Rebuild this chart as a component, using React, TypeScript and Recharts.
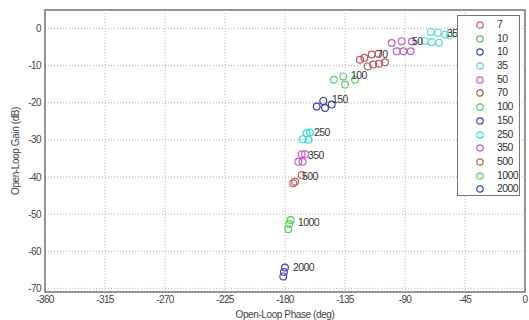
import React from 'react';
import {
  ScatterChart,
  Scatter,
  XAxis,
  YAxis,
  CartesianGrid,
  ReferenceArea,
  Label
} from 'recharts';

// legend order, as in the figure
const freqNames = ['7', '10', '10', '35', '50', '70', '100', '150', '250', '350', '500', '1000', '2000'];
const freqColors = [
  '#c86464', '#5cbf5c', '#3c3c9c', '#5ad6d6', '#c05cc0', '#b85a5a', '#6ac86a',
  '#4040a0', '#30dcdc', '#c85ec8', '#c86060', '#50d050', '#4848b0'
];

// open-loop phase (deg) / gain (dB) per frequency
const phase7: number[] = [];
const gain7: number[] = [];
const phase10a: number[] = [];
const gain10a: number[] = [];
const phase10b: number[] = [];
const gain10b: number[] = [];
const phase35 = [-70.7, -65.3, -60, -56.3, -75, -70, -64.5];
const gain35 = [-0.9, -1.1, -1.6, -1.9, -3.4, -3.7, -3.8];
const phase50 = [-100, -92.5, -84.8, -96.2, -91.2, -85.7];
const gain50 = [-3.9, -3.4, -3.5, -6.1, -6.1, -6.1];
const phase70 = [-123.8, -120.5, -115, -110, -118, -113.8, -109.5, -105];
const gain70 = [-8.4, -7.9, -7.0, -6.8, -10.2, -9.7, -9.5, -9.1];
const phase100 = [-143.3, -136.3, -135, -127.5];
const gain100 = [-13.8, -12.9, -15.1, -13.8];
const phase150 = [-156.2, -151.3, -150, -145];
const gain150 = [-21, -19.5, -21.4, -20.5];
const phase250 = [-166.8, -163.8, -162.5, -161.3];
const gain250 = [-29.8, -28.2, -30, -28.0];
const phase350 = [-167.5, -165, -170, -166.8];
const gain350 = [-33.9, -33.9, -35.9, -35.9];
const phase500 = [-167.5, -172.5, -173.8];
const gain500 = [-39.5, -41.3, -41.7];
const phase1000 = [-175.8, -176.8, -177.5];
const gain1000 = [-51.6, -52.7, -54.1];
const phase2000 = [-180, -180.8, -181.3];
const gain2000 = [-64.4, -65.6, -66.8];

const seriesPhases = [phase7, phase10a, phase10b, phase35, phase50, phase70, phase100, phase150, phase250, phase350, phase500, phase1000, phase2000];
const seriesGains = [gain7, gain10a, gain10b, gain35, gain50, gain70, gain100, gain150, gain250, gain350, gain500, gain1000, gain2000];

// text annotations next to each cluster
const annoText = ['35', '50', '70', '100', '150', '250', '350', '500', '1000', '2000'];
const annoPhase = [-58.5, -84.8, -111, -130.5, -144.8, -158.3, -162.8, -167.3, -170.3, -174];
const annoGain = [-1.4, -3.5, -7.0, -12.7, -19.2, -28.1, -34.1, -40, -52.2, -64.3];

const xTicks = [-360, -315, -270, -225, -180, -135, -90, -45, 0];
const yTicks = [0, -10, -20, -30, -40, -50, -60, -70];

const FONT = '"Liberation Sans", Arial, sans-serif';

const series = freqNames.map((name, i) => ({
  name,
  color: freqColors[i],
  data: seriesPhases[i].map((p, j) => ({ phase: p, gain: seriesGains[i][j] }))
}));

const annoData = annoText.map((t, i) => ({ phase: annoPhase[i], gain: annoGain[i], text: t }));

const App: React.FC = () => {
  return (
    <div style={{ position: 'absolute', left: 0, top: 0, width: 529, height: 320, background: '#fff', fontFamily: FONT }}>
      <ScatterChart width={529} height={320} margin={{ top: 10, right: 4, bottom: 0, left: 0 }}>
        <CartesianGrid strokeDasharray="1 2" stroke="#b0b0b0" />
        <XAxis
          type="number"
          dataKey="phase"
          domain={[-360, 0]}
          ticks={xTicks}
          height={28}
          axisLine={false}
          tickLine={false}
          tickSize={2}
          tickMargin={2}
          tick={{ fontSize: 10, fill: '#444', fontFamily: FONT, letterSpacing: -0.6 }}
          allowDataOverflow
        >
          <Label value="Open-Loop Phase (deg)" position="insideBottom" offset={2}
            style={{ fontSize: 10, fill: '#444', fontFamily: FONT, letterSpacing: -0.4 }} />
        </XAxis>
        <YAxis
          type="number"
          dataKey="gain"
          domain={[-71, 5]}
          ticks={yTicks}
          width={45}
          axisLine={false}
          tickLine={false}
          tickSize={2}
          tickMargin={2}
          tick={{ fontSize: 10, fill: '#444', fontFamily: FONT, letterSpacing: -0.6 }}
          allowDataOverflow
        >
          <Label value="Open-Loop Gain (dB)" angle={-90} position="insideLeft" offset={15}
            style={{ fontSize: 10, fill: '#444', fontFamily: FONT, letterSpacing: -0.4, textAnchor: 'middle' }} />
        </YAxis>
        <ReferenceArea x1={-360} x2={0} y1={-71} y2={5} fill="none" stroke="#777" strokeWidth={1.5} />
        {series.map((s, i) => (
          <Scatter
            key={`s-${i}`}
            name={s.name}
            data={s.data}
            isAnimationActive={false}
            shape={(props: any) => (
              <circle cx={props.cx} cy={props.cy} r={3.4} fill="none" stroke={s.color} strokeWidth={1.2} />
            )}
          />
        ))}
        <Scatter
          data={annoData}
          isAnimationActive={false}
          shape={(props: any) => (
            <text x={props.cx} y={props.cy} dy={3.5} fontSize={10.5} fill="#333" fontFamily={FONT} letterSpacing={-0.6}>
              {props.payload.text}
            </text>
          )}
        />
      </ScatterChart>
      <div
        style={{
          position: 'absolute',
          left: 457,
          top: 15,
          width: 63,
          height: 181,
          border: '1px solid #777',
          background: '#fff',
          paddingTop: 2,
          boxSizing: 'border-box'
        }}
      >
        {series.map((s, i) => (
          <div key={`l-${i}`} style={{ position: 'relative', height: 13.7 }}>
            <svg width={10} height={10} style={{ position: 'absolute', left: 17, top: 2 }}>
              <circle cx={5} cy={5} r={3.2} fill="none" stroke={s.color} strokeWidth={1.2} />
            </svg>
            <span
              style={{
                position: 'absolute',
                left: 39,
                top: 0,
                fontSize: 10.5,
                lineHeight: '13.7px',
                color: '#333',
                letterSpacing: -0.6
              }}
            >
              {s.name}
            </span>
          </div>
        ))}
      </div>
    </div>
  );
};

export default App;
